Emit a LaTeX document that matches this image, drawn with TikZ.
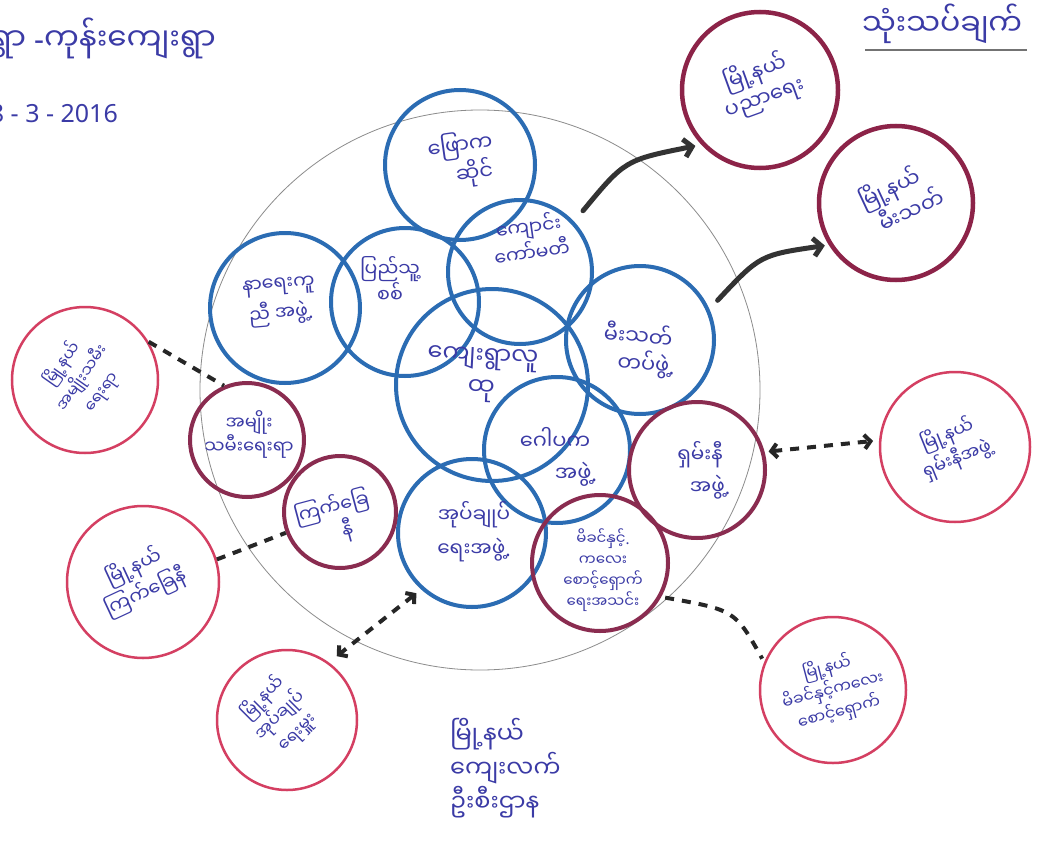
\documentclass[tikz,border=0pt]{standalone}
\usepackage{fontspec}
\newfontfamily\my[Script=Myanmar]{Noto Sans Myanmar UI}
\newfontfamily\lat{Noto Sans}
\usetikzlibrary{arrows.meta}
\definecolor{ink}{HTML}{3B3BA6}
\definecolor{bl}{HTML}{2B6CB3}
\definecolor{mr}{HTML}{8A2C50}
\definecolor{dm}{HTML}{8C2348}
\definecolor{pk}{HTML}{D43F62}
\definecolor{ar}{HTML}{333333}
\begin{document}
\begin{tikzpicture}[x=1pt,y=-1pt,
 lbl/.style={font=\my\fontsize{21}{27}\selectfont, text=ink, align=center, inner sep=0pt},
 sml/.style={font=\my\fontsize{16}{23}\selectfont, text=ink, align=center, inner sep=0pt},
 bc/.style={circle, draw=bl, line width=4pt, inner sep=0pt},
 mc/.style={circle, draw=mr, line width=4pt, inner sep=0pt},
 dc/.style={circle, draw=dm, line width=4.5pt, inner sep=0pt},
 oc/.style={circle, draw=pk, line width=2.5pt, inner sep=0pt},
 sol/.style={draw=ar, line width=5pt, line cap=round, -{Straight Barb[length=8pt,width=18pt]}},
 dsh/.style={draw=black!85, line width=4pt, dash pattern=on 9pt off 8pt},
 dsharr/.style={dsh, {Straight Barb[length=6pt,width=14pt]}-{Straight Barb[length=6pt,width=14pt]}},
]
\fill[white] (0,0) rectangle (1039,843);
\useasboundingbox (0,0) rectangle (1039,843);

% big grey circle
\node[circle, draw=black!45, line width=0.8pt, minimum size=560pt, inner sep=0pt] (big) at (480,390) {};

% header texts
\node[lbl, font=\my\fontsize{31}{36}\selectfont, anchor=east] (ttl) at (216,38) {ရွာ{\lat\ -}ကုန်းကျေးရွာ};
\node[lbl, font=\lat\fontsize{25}{28}\selectfont, anchor=east] (dat) at (118,114) {8 - 3 - 2016};
\node[lbl, font=\my\fontsize{30}{34}\selectfont, anchor=west] (rev) at (862,24) {သုံးသပ်ချက်};
\coordinate (ul1) at (865,50);
\coordinate (ul2) at (1027,50);
\draw[black!55, line width=2pt] (ul1) -- (ul2);

% blue circles
\node[bc, minimum size=150pt] (c1) at (460,165) {};
\node[bc, minimum size=144pt] (c2) at (520,272) {};
\node[bc, minimum size=148pt] (c3) at (405,302) {};
\node[bc, minimum size=150pt] (c4) at (285,308) {};
\node[bc, minimum size=192pt] (c5) at (492,385) {};
\node[bc, minimum size=148pt] (c6) at (640,340) {};
\node[bc, minimum size=146pt] (c7) at (557,450) {};
\node[bc, minimum size=148pt] (c8) at (472,533) {};
% maroon inner circles
\node[mc, minimum size=114pt] (c9) at (247,440) {};
\node[mc, minimum size=112pt] (c10) at (340,512) {};
\node[mc, minimum size=136pt] (c11) at (697,470) {};
\node[mc, minimum size=136pt] (c12) at (600,563) {};
% outer circles
\node[dc, minimum size=156pt] (o13) at (760,90) {};
\node[dc, minimum size=154pt] (o14) at (896,203) {};
\node[oc, minimum size=146pt] (o15) at (85,380) {};
\node[oc, minimum size=150pt] (o16) at (955,447) {};
\node[oc, minimum size=152pt] (o17) at (143,582) {};
\node[oc, minimum size=140pt] (o18) at (287,720) {};
\node[oc, minimum size=146pt] (o19) at (833,690) {};

% labels in circles
\node[lbl, rotate=8] (t1) at (462,160) {ဖြောက\\\quad ဆိုင်};
\node[lbl, font=\my\fontsize{19}{26}\selectfont, rotate=8] (t2) at (530,238) {ကျောင်း\\ကော်မတီ};
\node[lbl, font=\my\fontsize{19}{26}\selectfont] (t3) at (390,280) {ပြည်သူ့\\စစ်};
\node[lbl, font=\my\fontsize{19}{30}\selectfont, rotate=5] (t4) at (280,302) {နာရေးကူ\\ညီ အဖွဲ့{\lat .}};
\node[lbl, font=\my\fontsize{24}{32}\selectfont, rotate=-3] (t5) at (482,375) {ကျေးရွာလူ\\ထု\qquad};
\node[lbl, rotate=-5] (t6) at (637,350) {မီးသတ်\\\quad တပ်ဖွဲ့{\lat .}};
\node[lbl, font=\my\fontsize{21}{32}\selectfont] (t7) at (555,457) {ဂေါပက\\\qquad အဖွဲ့{\lat .}};
\node[lbl, font=\my\fontsize{20}{34}\selectfont] (t8) at (474,532) {အုပ်ချုပ်\\ရေးအဖွဲ့{\lat .}};
\node[lbl, font=\my\fontsize{18}{24}\selectfont] (t9) at (249,434) {အမျိုး\\သမီးရေးရာ};
\node[lbl, font=\my\fontsize{19}{26}\selectfont, rotate=15] (t10) at (335,520) {ကြက်ခြေ\\\quad နီ};
\node[lbl, font=\my\fontsize{20}{32}\selectfont] (t11) at (700,470) {ရှမ်းနီ\\\quad အဖွဲ့{\lat .}};
\node[sml, font=\my\fontsize{15}{21}\selectfont] (t12) at (603,570) {မိခင်နှင့်{\lat .}\\ကလေး\\စောင့်ရှောက်\\ရေးအသင်း};
\node[lbl, rotate=20] (t13) at (760,85) {မြို့နယ်\\ပညာရေး};
\node[lbl, rotate=25] (t14) at (895,200) {မြို့နယ်\\\quad မီးသတ်};
\node[lbl, font=\my\fontsize{16}{24}\selectfont, rotate=55] (t15) at (82,378) {မြို့နယ်\\အမျိုးသမီး\\ရေးရာ};
\node[lbl, font=\my\fontsize{18}{26}\selectfont, rotate=22] (t16) at (952,447) {မြို့နယ်\\ရှမ်းနီအဖွဲ့};
\node[lbl, font=\my\fontsize{19}{28}\selectfont, rotate=25] (t17) at (140,580) {မြို့နယ်\\ကြက်ခြေနီ};
\node[lbl, font=\my\fontsize{17}{24}\selectfont, rotate=45] (t18) at (280,715) {မြို့နယ်\\အုပ်ချုပ်\\ရေးမှူး};
\node[sml, rotate=15] (t19) at (833,690) {မြို့နယ်\\မိခင်နှင့်ကလေး\\စောင့်ရှောက်};

% bottom caption
\node[lbl, font=\my\fontsize{24}{34}\selectfont, align=left, anchor=north west] (cap) at (450,718) {မြို့နယ်\\ကျေးလက်\\ဦးစီးဌာန};

% connectors
\draw[sol, shorten <=14pt, shorten >=6pt] (c2.43) .. controls (625,160) .. (o13.223);
\draw[sol, shorten <=12pt, shorten >=4pt] (c6.24) .. controls (760,255) .. (o14.212);
\draw[dsh] (o15.31) -- (c9.113);
\draw[dsharr, shorten <=4pt, shorten >=6pt] (c11.15) -- (o16.175);
\draw[dsh] (o17.17) -- (c10.201);
\draw[dsharr, shorten <=6pt, shorten >=10pt] (c8.228) -- (o18.54);
\draw[dsh, shorten <=4pt, shorten >=4pt] (c12.331) .. controls (735,610) .. (o19.158);
\end{tikzpicture}
\end{document}
